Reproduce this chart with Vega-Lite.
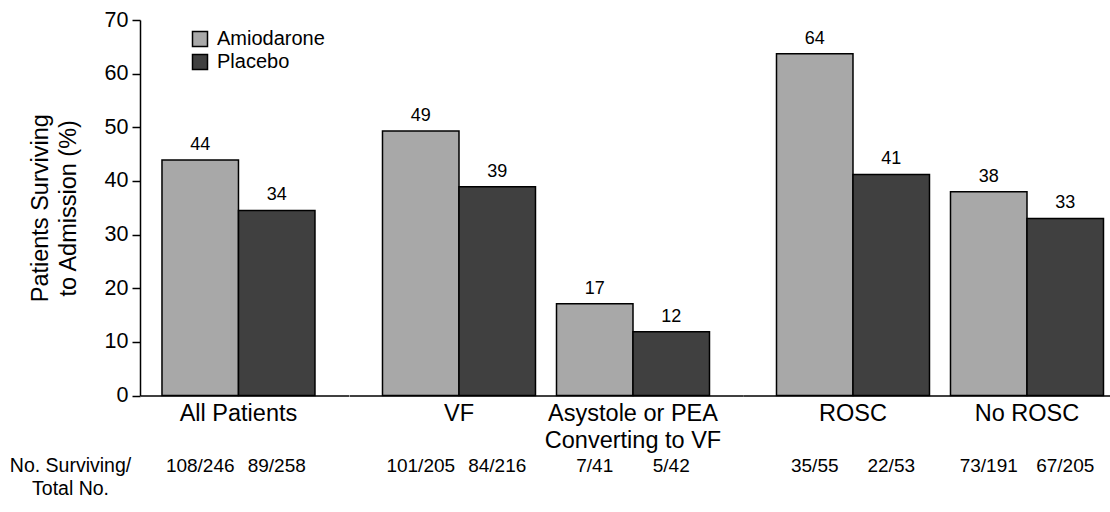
{
  "$schema": "https://vega.github.io/schema/vega-lite/v6.json",
  "padding": {"left": 9, "top": 9, "right": 0, "bottom": 0},
  "config": {
    "font": "Liberation Sans",
    "view": {"stroke": null},
    "concat": {"spacing": 0},
    "axis": {"domainColor": "#000", "domainWidth": 1.5, "tickColor": "#000", "tickWidth": 1.5, "labelColor": "#000", "titleColor": "#000", "grid": false, "titleFontWeight": "normal"},
    "legend": {"labelColor": "#000", "labelFontSize": 20, "symbolType": "square", "symbolSize": 225, "symbolStrokeColor": "#000", "symbolStrokeWidth": 1.5, "labelOffset": 7, "rowPadding": 1, "title": null}
  },
  "data": {"values": [
    {"section": "All", "group": "All Patients", "drug": "Amiodarone", "pct": 43.9, "shown": "44", "counts": "108/246"},
    {"section": "All", "group": "All Patients", "drug": "Placebo", "pct": 34.5, "shown": "34", "counts": "89/258"},
    {"section": "Rhythm", "group": "VF", "drug": "Amiodarone", "pct": 49.3, "shown": "49", "counts": "101/205"},
    {"section": "Rhythm", "group": "VF", "drug": "Placebo", "pct": 38.9, "shown": "39", "counts": "84/216"},
    {"section": "Rhythm", "group": "Asystole or PEA Converting to VF", "drug": "Amiodarone", "pct": 17.1, "shown": "17", "counts": "7/41"},
    {"section": "Rhythm", "group": "Asystole or PEA Converting to VF", "drug": "Placebo", "pct": 11.9, "shown": "12", "counts": "5/42"},
    {"section": "ROSC", "group": "ROSC", "drug": "Amiodarone", "pct": 63.7, "shown": "64", "counts": "35/55"},
    {"section": "ROSC", "group": "ROSC", "drug": "Placebo", "pct": 41.2, "shown": "41", "counts": "22/53"},
    {"section": "ROSC", "group": "No ROSC", "drug": "Amiodarone", "pct": 38.0, "shown": "38", "counts": "73/191"},
    {"section": "ROSC", "group": "No ROSC", "drug": "Placebo", "pct": 33.0, "shown": "33", "counts": "67/205"}
  ]},
  "resolve": {"scale": {"fill": "independent", "y": "independent"}, "legend": {"fill": "independent"}},
  "hconcat": [
    {
      "width": 208.5, "height": 375.5,
      "transform": [{"filter": "datum.section === 'All'"}],
      "encoding": {
        "x": {"field": "group", "type": "nominal", "sort": null,
          "scale": {"paddingInner": 0, "paddingOuter": 0.1814, "align": 0.396},
          "axis": {"title": ["No. Surviving/", "Total No."], "titleX": -70, "titleY": 61, "titleFontSize": 19.5, "titleAlign": "center", "titleBaseline": "top", "titleLineHeight": 23, "labelAngle": 0, "ticks": false, "tickSize": 0, "labelPadding": 6, "labelFontSize": 23.5, "labelLineHeight": 27}},
        "xOffset": {"field": "drug", "type": "nominal", "sort": ["Amiodarone", "Placebo"], "scale": {"paddingInner": 0, "paddingOuter": 0}}
      },
      "layer": [
        {"mark": {"type": "bar", "stroke": "#000", "strokeWidth": 1.5},
         "encoding": {
           "y": {"field": "pct", "type": "quantitative", "scale": {"domain": [0, 70], "nice": false},
             "axis": {"title": ["Patients Surviving", "to Admission (%)"], "values": [0, 10, 20, 30, 40, 50, 60, 70], "tickSize": 8, "labelPadding": 4, "labelFontSize": 21.5, "titleFontSize": 23.5, "titlePadding": 24, "titleLineHeight": 28}},
           "fill": {"field": "drug", "type": "nominal", "sort": ["Amiodarone", "Placebo"], "scale": {"range": ["#a8a8a8", "#404040"]},
             "legend": {"orient": "none", "legendX": 50, "legendY": 9}}
         }},
        {"mark": {"type": "text", "baseline": "alphabetic", "dy": -10, "fontSize": 18, "color": "#000"},
         "encoding": {"y": {"field": "pct", "type": "quantitative", "title": ["Patients Surviving", "to Admission (%)"]}, "text": {"field": "shown"}}},
        {"mark": {"type": "text", "baseline": "middle", "dy": 70, "fontSize": 19, "color": "#000"},
         "encoding": {"y": {"datum": 0, "type": "quantitative", "title": ["Patients Surviving", "to Admission (%)"]}, "text": {"field": "counts"}}}
      ]
    },
    {
      "width": 394, "height": 375.5,
      "transform": [{"filter": "datum.section === 'Rhythm'"}],
      "encoding": {
        "x": {"field": "group", "type": "nominal", "sort": null,
          "scale": {"paddingInner": 0.1207, "paddingOuter": 0.1925, "align": 0.5},
          "axis": {"title": null, "labelAngle": 0, "ticks": false, "tickSize": 0, "labelPadding": 6, "labelFontSize": 23.5, "labelLineHeight": 27,
            "labelExpr": "datum.label == 'Asystole or PEA Converting to VF' ? ['Asystole or PEA', 'Converting to VF'] : datum.label"}},
        "xOffset": {"field": "drug", "type": "nominal", "sort": ["Amiodarone", "Placebo"], "scale": {"paddingInner": 0, "paddingOuter": 0}}
      },
      "layer": [
        {"mark": {"type": "bar", "stroke": "#000", "strokeWidth": 1.5},
         "encoding": {
           "y": {"field": "pct", "type": "quantitative", "scale": {"domain": [0, 70], "nice": false}, "axis": null},
           "fill": {"field": "drug", "type": "nominal", "sort": ["Amiodarone", "Placebo"], "scale": {"range": ["#a8a8a8", "#404040"]}, "legend": null}
         }},
        {"mark": {"type": "text", "baseline": "alphabetic", "dy": -10, "fontSize": 18, "color": "#000"},
         "encoding": {"y": {"field": "pct", "type": "quantitative", "axis": null}, "text": {"field": "shown"}}},
        {"mark": {"type": "text", "baseline": "middle", "dy": 70, "fontSize": 19, "color": "#000"},
         "encoding": {"y": {"datum": 0, "type": "quantitative", "axis": null}, "text": {"field": "counts"}}}
      ]
    },
    {
      "width": 366.5, "height": 375.5,
      "transform": [{"filter": "datum.section === 'ROSC'"}],
      "encoding": {
        "x": {"field": "group", "type": "nominal", "sort": null,
          "scale": {"paddingInner": 0.1207, "paddingOuter": 0.1135, "align": 0.848},
          "axis": {"title": null, "labelAngle": 0, "ticks": false, "tickSize": 0, "labelPadding": 6, "labelFontSize": 23.5, "labelLineHeight": 27}},
        "xOffset": {"field": "drug", "type": "nominal", "sort": ["Amiodarone", "Placebo"], "scale": {"paddingInner": 0, "paddingOuter": 0}}
      },
      "layer": [
        {"mark": {"type": "bar", "stroke": "#000", "strokeWidth": 1.5},
         "encoding": {
           "y": {"field": "pct", "type": "quantitative", "scale": {"domain": [0, 70], "nice": false}, "axis": null},
           "fill": {"field": "drug", "type": "nominal", "sort": ["Amiodarone", "Placebo"], "scale": {"range": ["#a8a8a8", "#404040"]}, "legend": null}
         }},
        {"mark": {"type": "text", "baseline": "alphabetic", "dy": -10, "fontSize": 18, "color": "#000"},
         "encoding": {"y": {"field": "pct", "type": "quantitative", "axis": null}, "text": {"field": "shown"}}},
        {"mark": {"type": "text", "baseline": "middle", "dy": 70, "fontSize": 19, "color": "#000"},
         "encoding": {"y": {"datum": 0, "type": "quantitative", "axis": null}, "text": {"field": "counts"}}}
      ]
    }
  ]
}
